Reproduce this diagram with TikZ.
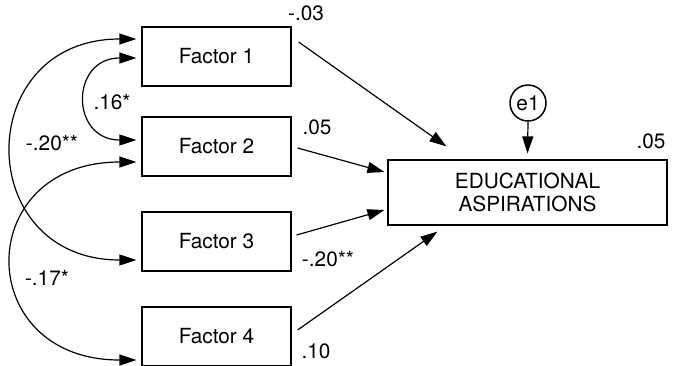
\documentclass[tikz,border=0pt]{standalone}
\usepackage{fontspec}
\setmainfont{TeX Gyre Heros}
\usetikzlibrary{arrows.meta}
\begin{document}
\begin{tikzpicture}[x=0.5pt,y=-0.5pt,
  font=\fontsize{10.4}{11.6}\selectfont,
  box/.style={draw, line width=0.6pt, minimum width=74.5pt, minimum height=29.5pt, inner sep=0pt},
  pathline/.style={line width=0.6pt, -{Triangle[length=8.5pt,width=5.5pt]}},
  covline/.style={line width=0.6pt, {Triangle[length=8.5pt,width=5.5pt]}-{Triangle[length=8.5pt,width=5.5pt]}},
  lab/.style={inner sep=0pt}]
\useasboundingbox (0,0) rectangle (678,365);
% boxes
\node[box] (f1) at (216.5,56.5) {Factor 1};
\node[box] (f2) at (216.5,146.5) {Factor 2};
\node[box] (f3) at (216.5,241.5) {Factor 3};
\node[box] (f4) at (216.5,336.5) {Factor 4};
\node[box, minimum width=139.5pt, minimum height=32.5pt, align=center] (ea) at (527.5,192.5) {EDUCATIONAL\\ASPIRATIONS};
\node[draw, circle, line width=0.75pt, minimum size=18pt, inner sep=0pt] (e1) at (528,103) {e1};
% directed paths
\draw[pathline] ([shift={(7,-14.5)}]f1.east) -- ([shift={(59,-13)}]ea.north west);
\draw[pathline] ([shift={(6,1.5)}]f2.east) -- ([shift={(-3,-20.5)}]ea.west);
\draw[pathline] ([shift={(5,-6.5)}]f3.east) -- ([shift={(-3,17.5)}]ea.west);
\draw[pathline] ([shift={(6,-6.5)}]f4.east) -- ([shift={(50,6)}]ea.south west);
\draw[pathline] (e1.south) -- ([shift={(0,-6)}]ea.north);
% covariances
\draw[covline] ([shift={(-5,1.5)}]f1.west) .. controls (70,58) and (70,140) .. ([shift={(-5,-6.5)}]f2.west);
\draw[covline] ([shift={(-5,-17.5)}]f1.west) .. controls (-28,39) and (-28,260) .. ([shift={(-5,18.5)}]f3.west);
\draw[covline] ([shift={(-5,15.5)}]f2.west) .. controls (-28,162) and (-28,360) .. ([shift={(-5,23.5)}]f4.west);
% labels
\node[lab] (l1) at (306,13) {-.03};
\node[lab] (l2) at (317,127) {.05};
\node[lab] (l3) at (328,259) {-.20**};
\node[lab] (l4) at (316,351) {.10};
\node[lab] (l5) at (651,141) {.05};
\node[lab] (l6) at (112,102) {.16*};
\node[lab] (l7) at (52,143) {-.20**};
\node[lab] (l8) at (47,278) {-.17*};
\end{tikzpicture}
\end{document}
